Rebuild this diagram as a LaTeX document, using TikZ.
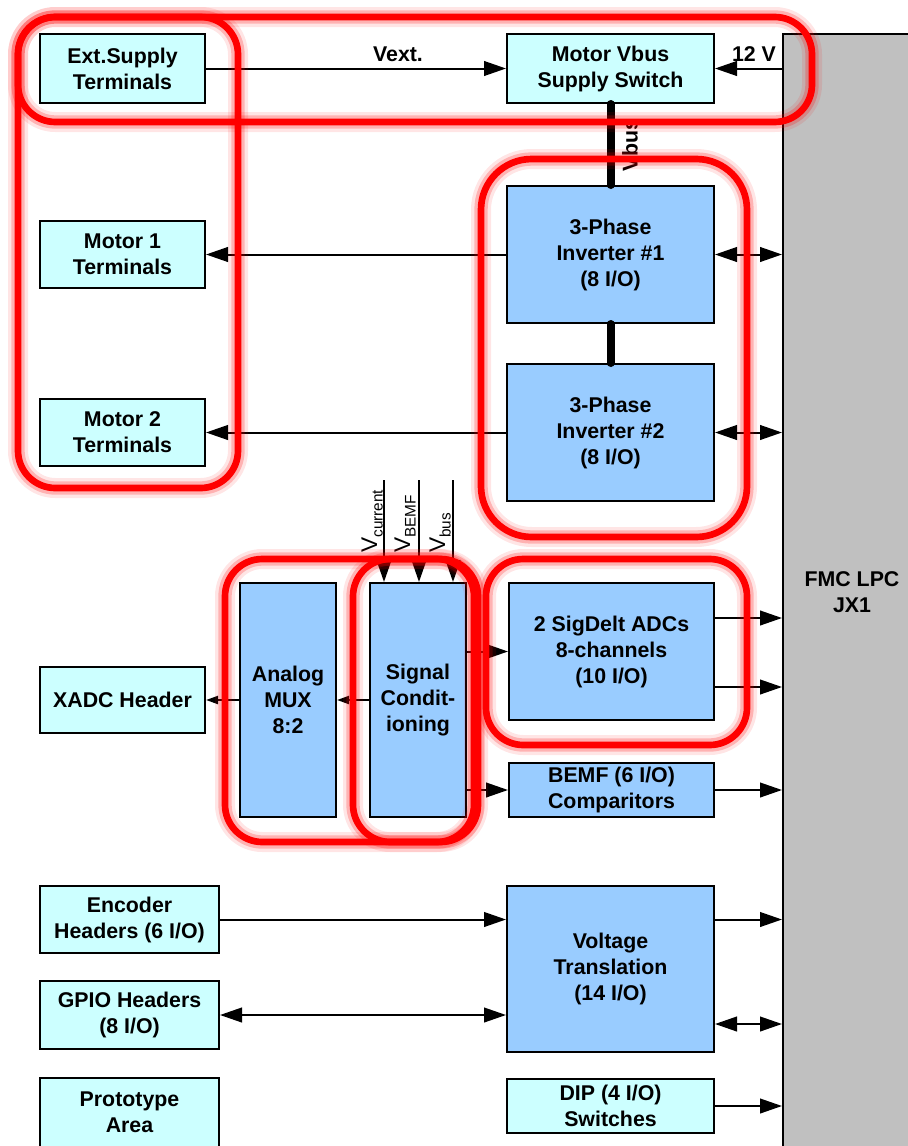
\documentclass[tikz,border=0pt]{standalone}
\usepackage{fontspec}
\setmainfont{Liberation Sans}
\usetikzlibrary{arrows.meta}
\definecolor{lcyan}{HTML}{CCFFFF}
\definecolor{lblue}{HTML}{99CCFF}
\definecolor{fmcgray}{HTML}{C0C0C0}
\tikzset{
  box/.style={draw=black, line width=1.5pt, inner sep=0pt, align=center,
    font=\bfseries\fontsize{16}{19.5}\selectfont},
  cbox/.style={box, fill=lcyan},
  bbox/.style={box, fill=lblue},
  lbl/.style={font=\bfseries\fontsize{16}{19.5}\selectfont, inner sep=0pt, align=center},
  arr/.style={line width=1.5pt, -{Triangle[length=16.5pt,width=11pt]}},
  darr/.style={line width=1.5pt, {Triangle[length=16.5pt,width=11pt]}-{Triangle[length=16.5pt,width=11pt]}},
  sarr/.style={line width=1.5pt, -{Triangle[length=9pt,width=6pt]}},
  bus/.style={line width=6pt, line cap=round},
  redframe/.style={draw=red, line width=5pt, rounded corners=28pt,
    preaction={draw=red, draw opacity=0.10, line width=15pt},
    preaction={draw=red, draw opacity=0.22, line width=10pt}},
  vlab/.style={rotate=90, anchor=base west, inner sep=0pt}
}
\newcommand\bx[7]{%
  \pgfmathsetmacro\bxw{(#5-#3)*0.75}%
  \pgfmathsetmacro\bxh{(#6-#4)*0.75}%
  \node[#1, minimum width=\bxw pt, minimum height=\bxh pt] (#2) at ({(#3+#5)/2},{(#4+#6)/2}) {#7};}
\begin{document}
\begin{tikzpicture}[x=0.75pt,y=-0.75pt]
\useasboundingbox[fill=white] (0,0) rectangle (907,1146);
% FMC connector
\bx{draw=black, line width=1.5pt, fill=fmcgray, inner sep=0pt}{fmc}{783}{34}{940}{1180}{}
\node[lbl] (fmctxt) at (852,592) {FMC LPC\\JX1};
% boxes
\bx{cbox}{ext}{40}{34}{205}{103}{Ext.Supply\\Terminals}
\bx{cbox}{vbus}{507}{34}{714}{103}{Motor Vbus\\Supply Switch}
\bx{bbox}{inv1}{507}{186}{714}{323}{3-Phase\\Inverter \#1\\(8 I/O)}
\bx{bbox}{inv2}{507}{364}{714}{501}{3-Phase\\Inverter \#2\\(8 I/O)}
\bx{cbox}{m1}{40}{221}{205}{288}{Motor 1\\Terminals}
\bx{cbox}{m2}{40}{399}{205}{466}{Motor 2\\Terminals}
\bx{bbox}{sc}{370}{583}{466}{817}{Signal\\Condit-\\ioning}
\bx{bbox}{mux}{240}{583}{336}{817}{Analog\\MUX\\8:2}
\bx{cbox}{xadc}{40}{667}{205}{733}{XADC Header}
\bx{bbox}{adc}{509}{583}{714}{720}{2 SigDelt ADCs\\8-channels\\(10 I/O)}
\bx{bbox}{bemf}{509}{763}{714}{817}{BEMF (6 I/O)\\Comparitors}
\bx{cbox}{enc}{40}{886}{219}{953}{Encoder\\Headers (6 I/O)}
\bx{cbox}{gpio}{40}{981}{219}{1049}{GPIO Headers\\(8 I/O)}
\bx{cbox}{proto}{40}{1078}{219}{1147}{Prototype\\Area}
\bx{bbox}{vt}{507}{886}{714}{1052}{Voltage\\Translation\\(14 I/O)}
\bx{cbox}{dip}{507}{1079}{714}{1133}{DIP (4 I/O)\\Switches}
% labels
\node[lbl] (vextl) at (398,54) {Vext.};
\node[lbl] (v12l) at (754,54) {12 V};
\node[lbl, rotate=90] (vbusl) at (630,145) {Vbus};
% connectors
\draw[arr] (ext.east) -- (vbus.west);
\draw[arr] (fmc.west |- vbus.east) -- (vbus.east);
\draw[bus] (vbus.south) -- (inv1.north);
\draw[bus] (inv1.south) -- (inv2.north);
\draw[arr] (inv1.west) -- (m1.east);
\draw[arr] (inv2.west) -- (m2.east);
\draw[darr] (inv1.east) -- (fmc.west |- inv1.east);
\draw[darr] (inv2.east) -- (fmc.west |- inv2.east);
% V inputs
\coordinate (vc) at (384,480);
\coordinate (vb) at (419,480);
\coordinate (vs) at (453,480);
\draw[arr] (vc) -- (vc |- sc.north);
\draw[arr] (vb) -- (vb |- sc.north);
\draw[arr] (vs) -- (vs |- sc.north);
\node[vlab] (vcl) at (377,553) {\fontsize{17}{17}\selectfont V\raisebox{-0.25em}{\fontsize{11.5}{11.5}\selectfont current}};
\node[vlab] (vbl) at (410,553) {\fontsize{17}{17}\selectfont V\raisebox{-0.25em}{\fontsize{11.5}{11.5}\selectfont BEMF}};
\node[vlab] (vsl) at (445,553) {\fontsize{17}{17}\selectfont V\raisebox{-0.25em}{\fontsize{11.5}{11.5}\selectfont bus}};
\draw[sarr] (sc.west) -- (mux.east);
\draw[sarr] (mux.west) -- (xadc.east);
\draw[arr] (sc.east |- adc.west) -- (adc.west);
\draw[arr] (sc.east |- bemf.west) -- (bemf.west);
\draw[arr] (adc.east |- 0,618) -- (fmc.west |- 0,618);
\draw[arr] (adc.east |- 0,687) -- (fmc.west |- 0,687);
\draw[arr] (bemf.east) -- (fmc.west |- bemf.east);
\draw[arr] (enc.east) -- (vt.west |- enc.east);
\draw[darr] (gpio.east) -- (vt.west |- gpio.east);
\draw[arr] (vt.east |- enc.east) -- (fmc.west |- enc.east);
\draw[darr] (vt.east |- 0,1024) -- (fmc.west |- 0,1024);
\draw[arr] (dip.east) -- (fmc.west |- dip.east);
% red highlight frames
\draw[redframe] (18,17) rectangle (812,122);
\draw[redframe] (18,17) rectangle (238,488);
\draw[redframe, rounded corners=38pt] (481,159) rectangle (747,537);
\draw[redframe] (225,559) rectangle (478,842);
\draw[redframe] (353,559) rectangle (474,842);
\draw[redframe] (486,559) rectangle (747,745);
\end{tikzpicture}
\end{document}
